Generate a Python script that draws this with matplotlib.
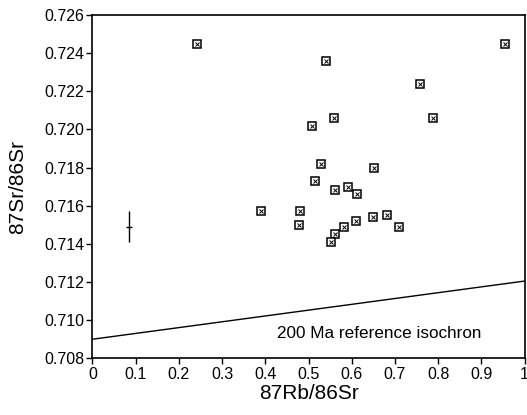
import matplotlib
matplotlib.use('Agg')
import matplotlib.pyplot as plt

plt.rcParams['font.family'] = ['Liberation Sans', 'DejaVu Sans']

# sample data
rb_sr = [0.242, 0.955, 0.541, 0.757, 0.558, 0.509, 0.788,
         0.530, 0.652, 0.514, 0.591, 0.561, 0.612,
         0.389, 0.480, 0.479, 0.582, 0.611, 0.650, 0.682, 0.710,
         0.561, 0.552]
sr_sr = [0.7245, 0.7245, 0.7236, 0.7224, 0.7206, 0.7202, 0.7206,
         0.7182, 0.7180, 0.7173, 0.7170, 0.7168, 0.7166,
         0.7157, 0.7157, 0.7150, 0.7149, 0.7152, 0.7154, 0.7155, 0.7149,
         0.7145, 0.7141]

# typical error bar
err_x = [0.0845]
err_y = [0.7149]
err_dy = [0.0008]

# 200 Ma reference isochron
iso_x = [0.0, 1.0]
iso_y = [0.7090, 0.71205]

fig = plt.figure(figsize=(5.27, 4.15), dpi=100)
ax = fig.add_axes([0.1755, 0.1366, 0.8198, 0.8273])

ax.plot(iso_x, iso_y, color='black', lw=1.0)
ax.plot(rb_sr, sr_sr, ls='none', marker='s', ms=5.5, mfc='white', mec='black', mew=1.1)
ax.plot(rb_sr, sr_sr, ls='none', marker='x', ms=3.5, mec='black', mew=0.7)
ax.errorbar(err_x, err_y, yerr=err_dy, fmt='_', color='black', ms=5, lw=1.0, capsize=0)

ax.text(0.427, 0.7093, '200 Ma reference isochron', fontsize=12.3, va='center', ha='left')

ax.set_xlim(0, 1)
ax.set_ylim(0.708, 0.726)
ax.set_xticks([0, 0.1, 0.2, 0.3, 0.4, 0.5, 0.6, 0.7, 0.8, 0.9, 1])
ax.set_xticklabels(['0', '0.1', '0.2', '0.3', '0.4', '0.5', '0.6', '0.7', '0.8', '0.9', '1'])
ax.set_yticks([0.708, 0.710, 0.712, 0.714, 0.716, 0.718, 0.720, 0.722, 0.724, 0.726])
ax.set_yticklabels(['%.3f' % v for v in ax.get_yticks()])
ax.tick_params(labelsize=11.5, length=4, width=1.0, direction='out', pad=2)
for s in ax.spines.values():
    s.set_linewidth(1.2)

ax.set_xlabel('87Rb/86Sr', fontsize=15, labelpad=2)
ax.set_ylabel('87Sr/86Sr', fontsize=15, labelpad=12)

fig.savefig('out.png', dpi=100)
